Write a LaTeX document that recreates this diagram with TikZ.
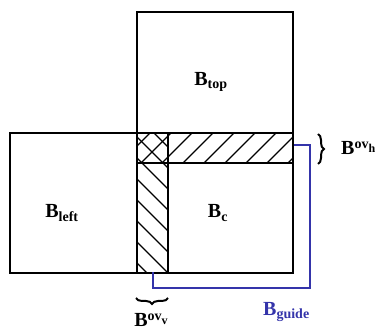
\documentclass[tikz,border=0pt]{standalone}
\usepackage{fontspec}
\setmainfont{Liberation Serif}
\usetikzlibrary{decorations.pathreplacing}
\definecolor{guideblue}{RGB}{52,52,170}
\tikzset{
  blockline/.style={line width=2.8pt},
  hatchline/.style={line width=1.4pt},
  guideline/.style={guideblue,line width=2.4pt},
  ovbrace/.style={line width=2pt,decorate,decoration={brace,amplitude=6pt}},
  blabel/.style={font=\fontsize{20}{24}\selectfont\bfseries,inner sep=0pt}
}
\newcommand{\ovsup}[1]{\raisebox{6pt}{\fontsize{14}{16}\selectfont ov\raisebox{-4pt}{\fontsize{12}{14}\selectfont #1}}}
\begin{document}
\begin{tikzpicture}[x=1pt,y=1pt]
\useasboundingbox (0,0) rectangle (380,334);
% corners of the blocks
\coordinate (tl) at (137,322);
\coordinate (tr) at (293,201);
\coordinate (ll) at (10,61);
\coordinate (cc) at (137,201);
\coordinate (cr) at (293,61);
% hatched overlaps
\begin{scope}
  \clip (137,171) rectangle (293,201);
  \foreach \x in {120,141,...,300}
    \draw[hatchline] (\x,171) -- (\x+30,201);
\end{scope}
\begin{scope}
  \clip (137,61) rectangle (168,201);
  \foreach \y in {40,61,...,220}
    \draw[hatchline] (137,\y+31) -- (168,\y);
\end{scope}
\draw[blockline] (137,171) -- (293,171);
\draw[blockline] (168,61) -- (168,201);
% blocks
\draw[blockline] (tl) rectangle (tr);
\draw[blockline] (ll) rectangle (cc);
\draw[blockline] (cc) rectangle (cr);
% guide
\coordinate (g1) at (294,189);
\coordinate (g2) at (153,62);
\draw[guideline] (g1) -- (310,189) -- (310,46) -- (153,46) -- (g2);
% braces
\coordinate (bh1) at (318,200);
\coordinate (bh2) at (318,170);
\coordinate (bv1) at (168,36);
\coordinate (bv2) at (136,36);
\draw[ovbrace] (bh1) -- (bh2);
\draw[ovbrace] (bv1) -- (bv2);
% labels
\node[blabel] (btop) at (211,252) {B\textsubscript{top}};
\node[blabel] (bleft) at (62,121) {B\textsubscript{left}};
\node[blabel] (bc) at (218,121) {B\textsubscript{c}};
\node[blabel,anchor=west] (bovh) at (341,186) {B\ovsup{h}};
\node[blabel] (bovv) at (151,14) {B\ovsup{v}};
\node[blabel,text=guideblue,anchor=west] (bguide) at (263,22) {B\textsubscript{guide}};
\end{tikzpicture}
\end{document}
